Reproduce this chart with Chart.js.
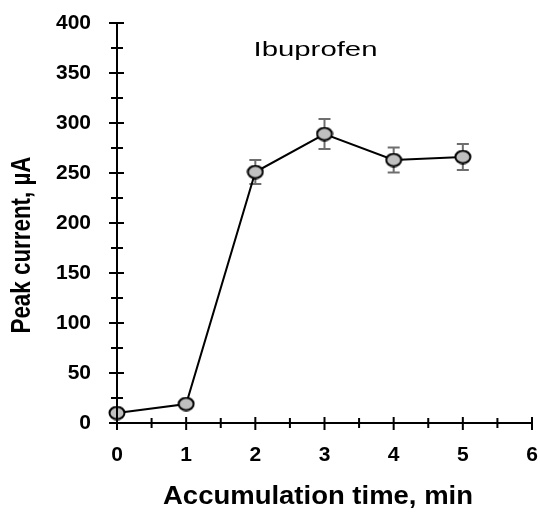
<!DOCTYPE html>
<html>
<head>
<meta charset="utf-8">
<script src="https://cdn.jsdelivr.net/npm/chart.js@4"></script>
<style>
  html, body { margin: 0; padding: 0; background: #fff; }
  #wrap { width: 540px; height: 514px; position: relative; }
</style>
</head>
<body>
<div id="wrap"><canvas id="chart"></canvas></div>
<script>
// ── Data ──
const times = [0, 1, 2, 3, 4, 5];
const current = [10, 19, 251, 289, 263, 266];
const errors = [0, 0, 12, 15, 12.5, 13];
const xTicks = [0, 1, 2, 3, 4, 5, 6];
const yTicks = [0, 50, 100, 150, 200, 250, 300, 350, 400];
const seriesLabel = 'Ibuprofen';
const xTitle = 'Accumulation time, min';
const yTitle = 'Peak current, \u00B5A';

// ── Marker: slightly wide ellipse like the original ──
function makeMarker() {
  const c = document.createElement('canvas');
  c.width = 18; c.height = 15;
  const g = c.getContext('2d');
  g.beginPath();
  g.ellipse(9, 7.5, 7.5, 6.2, 0, 0, Math.PI * 2);
  g.fillStyle = '#c0c0c0';
  g.fill();
  g.lineWidth = 2;
  g.strokeStyle = '#000';
  g.stroke();
  return c;
}

// ── Stretched text helper ──
function drawFitted(ctx, text, x, y, font, targetW, rotate) {
  ctx.save();
  ctx.font = font;
  const w = ctx.measureText(text).width;
  ctx.translate(x, y);
  if (rotate) ctx.rotate(-Math.PI / 2);
  ctx.scale(targetW / w, 1);
  ctx.textAlign = 'center';
  ctx.textBaseline = 'middle';
  ctx.fillStyle = '#000';
  ctx.fillText(text, 0, 0);
  ctx.restore();
}

// ── Axes, crossing ticks, error bars and texts ──
const decor = {
  id: 'decor',
  beforeDatasetsDraw(chart) {
    const { ctx } = chart;
    const xs = chart.scales.x, ys = chart.scales.y;
    // error bars (behind markers)
    ctx.save();
    ctx.strokeStyle = '#6e6e6e';
    ctx.lineWidth = 2;
    times.forEach((t, i) => {
      if (!errors[i]) return;
      const px = xs.getPixelForValue(t);
      const top = ys.getPixelForValue(current[i] + errors[i]);
      const bot = ys.getPixelForValue(current[i] - errors[i]);
      ctx.beginPath();
      ctx.moveTo(px, top); ctx.lineTo(px, bot);
      ctx.moveTo(px - 6, top); ctx.lineTo(px + 6, top);
      ctx.moveTo(px - 6, bot); ctx.lineTo(px + 6, bot);
      ctx.stroke();
    });
    ctx.restore();
  },
  afterDraw(chart) {
    const { ctx, chartArea: a } = chart;
    const xs = chart.scales.x, ys = chart.scales.y;
    ctx.save();
    ctx.strokeStyle = '#000';
    ctx.lineWidth = 2;
    ctx.beginPath();
    ctx.moveTo(a.left, a.top); ctx.lineTo(a.left, a.bottom + 7);
    ctx.moveTo(a.left - 8, a.bottom); ctx.lineTo(a.right + 1, a.bottom);
    // y ticks (major + minor)
    for (let v = 0; v <= 400; v += 25) {
      const py = ys.getPixelForValue(v);
      const major = v % 50 === 0;
      ctx.moveTo(a.left - (major ? 8 : 6), py);
      ctx.lineTo(a.left + (major ? 7 : 6), py);
    }
    // x ticks (major + minor)
    for (let v = 0; v <= 6; v += 0.5) {
      const px = xs.getPixelForValue(v);
      const major = v % 1 === 0;
      ctx.moveTo(px, a.bottom - (major ? 6 : 5));
      ctx.lineTo(px, a.bottom + (major ? 7 : 5));
    }
    ctx.stroke();
    ctx.restore();

    drawFitted(ctx, seriesLabel, xs.getPixelForValue(2.87), ys.getPixelForValue(373),
      '21px "Liberation Sans", Arial, sans-serif', 124, false);
    drawFitted(ctx, xTitle, 318, 497,
      'bold 25px "Liberation Sans", Arial, sans-serif', 310, false);
    drawFitted(ctx, yTitle, 23, 245,
      'bold 27px "Liberation Sans", Arial, sans-serif', 177, true);
  }
};

const marker = makeMarker();

new Chart(document.getElementById('chart'), {
  type: 'line',
  data: {
    datasets: [{
      label: seriesLabel,
      data: times.map((t, i) => ({ x: t, y: current[i] })),
      borderColor: '#000',
      borderWidth: 2,
      pointStyle: marker,
      pointRadius: 8,
      pointHoverRadius: 8,
      tension: 0,
      fill: false,
      clip: false
    }]
  },
  options: {
    responsive: true,
    maintainAspectRatio: false,
    animation: false,
    events: [],
    layout: { autoPadding: false, padding: { top: 23, right: 8, left: 0, bottom: 0 } },
    plugins: { legend: { display: false }, tooltip: { enabled: false } },
    scales: {
      x: {
        type: 'linear',
        min: 0, max: 6,
        afterFit(s) { s.height = 91; s.paddingLeft = 0; s.paddingRight = 0; },
        afterBuildTicks(s) { s.ticks = xTicks.map(v => ({ value: v })); },
        grid: { display: false, drawTicks: false },
        border: { display: false },
        ticks: {
          padding: 20,
          color: '#000',
          font: { family: '"Liberation Sans", Arial, sans-serif', size: 21, weight: 'bold' }
        }
      },
      y: {
        min: 0, max: 400,
        afterFit(s) { s.width = 117; s.paddingTop = 0; s.paddingBottom = 0; },
        afterBuildTicks(s) { s.ticks = yTicks.map(v => ({ value: v })); },
        grid: { display: false, drawTicks: false },
        border: { display: false },
        ticks: {
          padding: 26,
          color: '#000',
          font: { family: '"Liberation Sans", Arial, sans-serif', size: 21, weight: 'bold' }
        }
      }
    }
  },
  plugins: [decor]
});
</script>
</body>
</html>
